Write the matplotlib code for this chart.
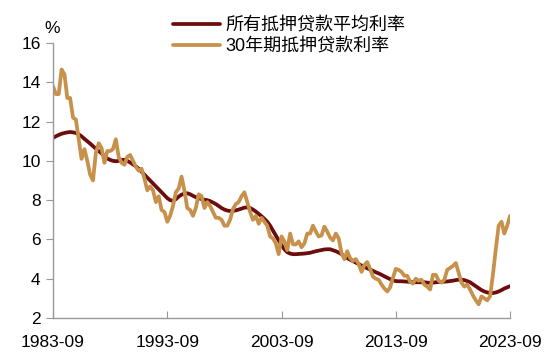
import numpy as np
import pandas as pd
import matplotlib
matplotlib.use("Agg")
import matplotlib.pyplot as plt

plt.rcParams['font.family'] = ['Liberation Sans', 'Noto Sans CJK SC']
plt.rcParams['axes.unicode_minus'] = False

# quarterly observations, 1983-09 .. 2023-09
dates = pd.date_range('1983-09-01', '2023-09-01', freq='3MS')

avg_rate = [
    11.17, 11.25,                       # 1983
    11.32, 11.38, 11.42, 11.45,         # 1984
    11.47, 11.45, 11.42, 11.35,         # 1985
    11.25, 11.12, 11.00, 10.88,         # 1986
    10.75, 10.62, 10.50, 10.38,         # 1987
    10.25, 10.12, 10.05, 10.00,         # 1988
    9.98, 10.00, 10.05, 10.05,          # 1989
    10.00, 9.92, 9.82, 9.72,            # 1990
    9.60, 9.45, 9.30, 9.15,             # 1991
    9.00, 8.85, 8.70, 8.55,             # 1992
    8.40, 8.25, 8.10, 8.00,             # 1993
    7.97, 8.05, 8.18, 8.28,             # 1994
    8.33, 8.35, 8.30, 8.22,             # 1995
    8.15, 8.10, 8.05, 8.02,             # 1996
    8.00, 7.95, 7.88, 7.80,             # 1997
    7.70, 7.60, 7.52, 7.47,             # 1998
    7.45, 7.45, 7.48, 7.52,             # 1999
    7.57, 7.62, 7.63, 7.60,             # 2000
    7.52, 7.42, 7.30, 7.18,             # 2001
    7.05, 6.90, 6.70, 6.45,             # 2002
    6.20, 5.95, 5.70, 5.50,             # 2003
    5.35, 5.28, 5.25, 5.25,             # 2004
    5.26, 5.27, 5.28, 5.30,             # 2005
    5.32, 5.36, 5.40, 5.43,             # 2006
    5.46, 5.49, 5.50, 5.50,             # 2007
    5.45, 5.40, 5.33, 5.25,             # 2008
    5.15, 5.05, 4.97, 4.90,             # 2009
    4.82, 4.75, 4.67, 4.60,             # 2010
    4.53, 4.47, 4.40, 4.33,             # 2011
    4.27, 4.20, 4.12, 4.05,             # 2012
    3.98, 3.92, 3.88, 3.87,             # 2013
    3.87, 3.86, 3.85, 3.84,             # 2014
    3.83, 3.82, 3.82, 3.82,             # 2015
    3.82, 3.80, 3.79, 3.80,             # 2016
    3.82, 3.83, 3.84, 3.85,             # 2017
    3.86, 3.88, 3.90, 3.93,             # 2018
    3.95, 3.95, 3.93, 3.88,             # 2019
    3.82, 3.72, 3.62, 3.52,             # 2020
    3.42, 3.35, 3.30, 3.27,             # 2021
    3.27, 3.30, 3.35, 3.42,             # 2022
    3.50, 3.56, 3.62,                   # 2023
]

rate_30y = [
    13.80, 13.40,                       # 1983
    13.40, 14.65, 14.40, 13.20,         # 1984
    13.20, 12.20, 12.10, 11.10,         # 1985
    10.10, 10.60, 10.00, 9.30,          # 1986
    9.00, 10.40, 10.90, 10.65,          # 1987
    9.90, 10.50, 10.50, 10.60,          # 1988
    11.10, 10.20, 9.90, 9.80,           # 1989
    10.20, 10.30, 10.00, 9.70,          # 1990
    9.50, 9.60, 9.10, 8.50,             # 1991
    8.70, 8.50, 7.90, 8.20,             # 1992
    7.50, 7.40, 6.90, 7.20,             # 1993
    7.70, 8.40, 8.60, 9.20,             # 1994
    8.50, 7.60, 7.50, 7.20,             # 1995
    7.60, 8.30, 8.20, 7.60,             # 1996
    7.90, 7.70, 7.40, 7.10,             # 1997
    7.10, 7.00, 6.70, 6.70,             # 1998
    7.00, 7.55, 7.80, 7.90,             # 1999
    8.20, 8.40, 7.90, 7.40,             # 2000
    7.00, 7.20, 6.80, 7.10,             # 2001
    6.90, 6.70, 6.15, 6.05,             # 2002
    5.80, 5.25, 6.15, 5.90,             # 2003
    5.45, 6.30, 5.75, 5.75,             # 2004
    5.90, 5.60, 5.80, 6.30,             # 2005
    6.30, 6.70, 6.40, 6.15,             # 2006
    6.20, 6.65, 6.40, 6.10,             # 2007
    5.95, 6.30, 6.05, 5.30,             # 2008
    5.00, 5.40, 5.05, 4.90,             # 2009
    5.00, 4.75, 4.35, 4.70,             # 2010
    4.85, 4.50, 4.10, 4.00,             # 2011
    3.95, 3.70, 3.50, 3.35,             # 2012
    3.55, 4.05, 4.50, 4.45,             # 2013
    4.35, 4.15, 4.15, 3.85,             # 2014
    3.75, 4.00, 3.90, 3.95,             # 2015
    3.70, 3.60, 3.45, 4.20,             # 2016
    4.20, 3.90, 3.80, 3.95,             # 2017
    4.45, 4.55, 4.65, 4.80,             # 2018
    4.30, 3.80, 3.60, 3.70,             # 2019
    3.45, 3.15, 2.90, 2.70,             # 2020
    3.10, 3.00, 2.90, 3.10,             # 2021
    4.20, 5.50, 6.70, 6.90,             # 2022
    6.30, 6.70, 7.20,                   # 2023
]

labels = ['所有抵押贷款平均利率', '30年期抵押贷款利率']
colors = ['#6B0D0D', '#C8914B']
xtick_labels = ['1983-09', '1993-09', '2003-09', '2013-09', '2023-09']

fig = plt.figure(figsize=(5.5, 3.54), dpi=100)
ax = fig.add_axes([0.0964, 0.1017, 0.831, 0.7768])

ax.plot(dates, avg_rate, color=colors[0], lw=2.7, label=labels[0], solid_capstyle='round')
ax.plot(dates, rate_30y, color=colors[1], lw=2.7, label=labels[1], solid_capstyle='round')

ax.set_xlim(dates[0], dates[-1])
ax.set_ylim(2, 16)
ax.set_yticks(np.arange(2, 17, 2))
xt = pd.to_datetime(xtick_labels)
ax.set_xticks(xt)
ax.set_xticklabels(xtick_labels)

for s in ['top', 'right']:
    ax.spines[s].set_visible(False)
for s in ['left', 'bottom']:
    ax.spines[s].set_color('#999999')
    ax.spines[s].set_linewidth(1.0)

ax.tick_params(axis='y', direction='out', length=5, color='#999999', labelsize=12.5, pad=4)
ax.tick_params(axis='x', direction='in', length=5, color='#999999', labelsize=12.5, pad=12.5)

ax.text(-0.003, 1.025, '%', transform=ax.transAxes, fontsize=12.5, ha='center', va='bottom')

ax.legend(loc='upper left', bbox_to_anchor=(0.291, 0.986), bbox_transform=fig.transFigure,
          frameon=False, fontsize=13, handlelength=2.6, handletextpad=0.3,
          labelspacing=0.22, borderpad=0.2)

fig.savefig('out.png', dpi=100)
